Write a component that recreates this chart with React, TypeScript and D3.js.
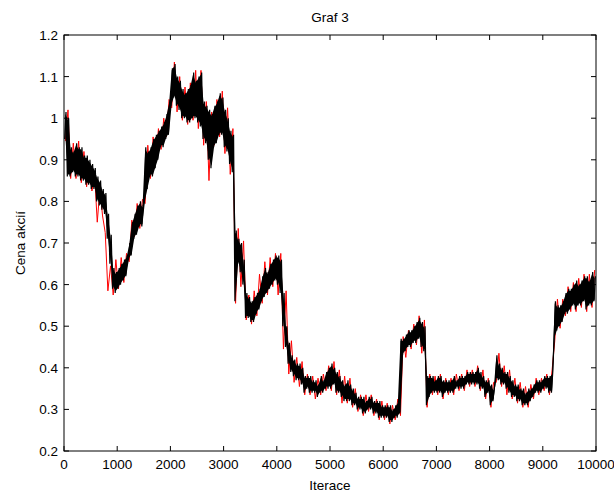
import React from "react";
import * as d3 from "d3";

// Price trace, summarised as low/high extremes per 50 iterations (black run)
const blackHigh = [
  1.015, 1.0, 0.93, 0.92, 0.94, 0.93, 0.93, 0.91, 0.91, 0.90,
  0.89, 0.88, 0.86, 0.85, 0.83, 0.82, 0.77, 0.72, 0.64, 0.63,
  0.64, 0.65, 0.66, 0.67, 0.70, 0.75, 0.77, 0.79, 0.80, 0.79,
  0.93, 0.92, 0.93, 0.95, 0.96, 0.97, 0.98, 0.99, 1.01, 1.04,
  1.12, 1.13, 1.10, 1.09, 1.07, 1.06, 1.07, 1.08, 1.11, 1.09,
  1.10, 1.11, 1.04, 1.03, 1.02, 1.01, 1.03, 1.04, 1.06, 1.05,
  1.02, 1.00, 0.97, 0.96, 0.73, 0.71, 0.70, 0.66, 0.58, 0.57,
  0.56, 0.57, 0.58, 0.59, 0.62, 0.64, 0.63, 0.65, 0.66, 0.67,
  0.67, 0.66, 0.58, 0.50, 0.46, 0.43, 0.42, 0.41, 0.41, 0.40,
  0.38, 0.38, 0.38, 0.37, 0.37, 0.36, 0.38, 0.37, 0.39, 0.40,
  0.41, 0.40, 0.39, 0.38, 0.37, 0.36, 0.37, 0.36, 0.35, 0.34,
  0.33, 0.33, 0.33, 0.32, 0.33, 0.33, 0.32, 0.32, 0.32, 0.31,
  0.31, 0.31, 0.31, 0.30, 0.31, 0.32, 0.47, 0.47, 0.48, 0.49,
  0.49, 0.50, 0.51, 0.52, 0.51, 0.50, 0.38, 0.38, 0.38, 0.37,
  0.38, 0.38, 0.37, 0.37, 0.37, 0.37, 0.38, 0.37, 0.38, 0.38,
  0.38, 0.39, 0.39, 0.39, 0.39, 0.40, 0.39, 0.38, 0.37, 0.37,
  0.36, 0.35, 0.43, 0.41, 0.40, 0.39, 0.39, 0.38, 0.37, 0.36,
  0.36, 0.35, 0.35, 0.34, 0.35, 0.35, 0.36, 0.37, 0.37, 0.37,
  0.38, 0.38, 0.38, 0.39, 0.56, 0.55, 0.55, 0.56, 0.58, 0.59,
  0.59, 0.60, 0.61, 0.60, 0.61, 0.62, 0.62, 0.61, 0.63, 0.62,
];

const blackLow = [
  0.95, 0.86, 0.86, 0.87, 0.86, 0.86, 0.85, 0.85, 0.84, 0.84,
  0.83, 0.83, 0.80, 0.79, 0.78, 0.77, 0.71, 0.65, 0.59, 0.58,
  0.59, 0.60, 0.61, 0.62, 0.66, 0.67, 0.71, 0.72, 0.74, 0.74,
  0.80, 0.83, 0.86, 0.86, 0.88, 0.90, 0.93, 0.93, 0.95, 0.96,
  1.03, 1.05, 1.03, 1.02, 1.00, 1.00, 0.99, 0.99, 1.00, 1.00,
  0.99, 0.98, 0.95, 0.94, 0.90, 0.88, 0.93, 0.94, 0.96, 0.96,
  0.93, 0.92, 0.89, 0.87, 0.56, 0.65, 0.63, 0.60, 0.52, 0.52,
  0.51, 0.51, 0.53, 0.54, 0.56, 0.57, 0.58, 0.59, 0.60, 0.61,
  0.60, 0.58, 0.50, 0.45, 0.41, 0.39, 0.38, 0.37, 0.37, 0.36,
  0.34, 0.35, 0.34, 0.34, 0.34, 0.33, 0.34, 0.34, 0.35, 0.35,
  0.35, 0.36, 0.34, 0.34, 0.33, 0.32, 0.32, 0.32, 0.31, 0.31,
  0.30, 0.30, 0.29, 0.29, 0.30, 0.30, 0.29, 0.29, 0.28, 0.28,
  0.28, 0.28, 0.27, 0.27, 0.28, 0.28, 0.29, 0.43, 0.44, 0.45,
  0.45, 0.46, 0.46, 0.47, 0.45, 0.44, 0.31, 0.33, 0.34, 0.34,
  0.34, 0.34, 0.33, 0.34, 0.34, 0.34, 0.34, 0.35, 0.35, 0.35,
  0.35, 0.36, 0.36, 0.36, 0.36, 0.36, 0.35, 0.35, 0.33, 0.34,
  0.31, 0.32, 0.37, 0.37, 0.36, 0.36, 0.35, 0.34, 0.33, 0.33,
  0.32, 0.32, 0.31, 0.31, 0.31, 0.32, 0.33, 0.34, 0.34, 0.34,
  0.35, 0.35, 0.34, 0.34, 0.47, 0.49, 0.50, 0.51, 0.53, 0.53,
  0.54, 0.55, 0.54, 0.55, 0.55, 0.56, 0.54, 0.55, 0.55, 0.56,
];

// Second run, low/high extremes per 100 iterations (red run)
const redHigh = [
  1.02, 0.94, 0.945, 0.92, 0.89, 0.865, 0.83, 0.725, 0.645, 0.66,
  0.665, 0.675, 0.755, 0.795, 0.805, 0.935, 0.955, 0.975, 1.0, 1.045,
  1.135, 1.1, 1.075, 1.085, 1.115, 1.115, 1.04, 1.015, 1.045, 1.065,
  1.025, 0.975, 0.735, 0.705, 0.575, 0.585, 0.625, 0.655, 0.665, 0.675,
  0.675, 0.585, 0.465, 0.425, 0.415, 0.385, 0.38, 0.375, 0.385, 0.405,
  0.415, 0.395, 0.38, 0.375, 0.35, 0.335, 0.335, 0.335, 0.325, 0.32,
  0.315, 0.31, 0.325, 0.475, 0.49, 0.505, 0.525, 0.515, 0.385, 0.38,
  0.385, 0.375, 0.375, 0.385, 0.385, 0.395, 0.395, 0.405, 0.395, 0.375,
  0.365, 0.435, 0.405, 0.395, 0.375, 0.365, 0.355, 0.36, 0.375, 0.375,
  0.385, 0.395, 0.565, 0.565, 0.595, 0.605, 0.615, 0.625, 0.625, 0.635,
];

const redLow = [
  0.945, 0.855, 0.855, 0.845, 0.835, 0.825, 0.75, 0.765, 0.585, 0.575,
  0.59, 0.605, 0.655, 0.715, 0.735, 0.795, 0.855, 0.895, 0.925, 0.955,
  1.025, 1.015, 0.995, 0.985, 0.995, 0.975, 0.935, 0.85, 0.935, 0.955,
  0.915, 0.865, 0.555, 0.595, 0.515, 0.505, 0.525, 0.555, 0.575, 0.595,
  0.575, 0.445, 0.385, 0.365, 0.355, 0.335, 0.335, 0.325, 0.335, 0.345,
  0.345, 0.335, 0.315, 0.315, 0.305, 0.295, 0.285, 0.295, 0.285, 0.275,
  0.275, 0.265, 0.275, 0.285, 0.425, 0.445, 0.455, 0.435, 0.305, 0.335,
  0.335, 0.325, 0.335, 0.335, 0.345, 0.345, 0.355, 0.355, 0.345, 0.325,
  0.305, 0.365, 0.355, 0.335, 0.325, 0.315, 0.305, 0.305, 0.325, 0.335,
  0.345, 0.335, 0.465, 0.495, 0.525, 0.535, 0.535, 0.545, 0.535, 0.545,
];

const xTicks = [0, 1000, 2000, 3000, 4000, 5000, 6000, 7000, 8000, 9000, 10000];
const yTicks = [0.2, 0.3, 0.4, 0.5, 0.6, 0.7, 0.8, 0.9, 1, 1.1, 1.2];

const W = 614;
const H = 496;
const left = 64;
const right = 596;
const top = 35;
const bottom = 451;
const font = "Arial, 'Liberation Sans', Helvetica, sans-serif";

type Bin = { it: number; lo: number; hi: number };

function bins(lows: number[], highs: number[], step: number): Bin[] {
  return lows.map((lo, i) => ({ it: i * step + step / 2, lo, hi: highs[i] }));
}

// Zigzag trace through the extremes: low then high in each bin
function zigzag(b: Bin[], step: number): [number, number][] {
  const pts: [number, number][] = [];
  b.forEach((d) => {
    pts.push([d.it - step * 0.25, d.lo]);
    pts.push([d.it + step * 0.25, d.hi]);
  });
  return pts;
}

export default function App() {
  const x = d3.scaleLinear().domain([0, 10000]).range([left, right]);
  const y = d3.scaleLinear().domain([0.2, 1.2]).range([bottom, top]);
  const line = d3
    .line<[number, number]>()
    .x((d) => x(d[0]))
    .y((d) => y(d[1]));
  // Band between the per-bin extremes, shrunk slightly so the zigzag forms the edge
  const area = d3
    .area<Bin>()
    .x((d) => x(d.it))
    .y0((d) => y(d.lo) - 2)
    .y1((d) => y(d.hi) + 2);

  const blackBins = bins(blackLow, blackHigh, 50);
  const redBins = bins(redLow, redHigh, 100);

  const redPath = line(zigzag(redBins, 100)) || "";
  const blackPath = line(zigzag(blackBins, 50)) || "";
  const blackBand =
    area(blackBins.map((d) => (y(d.lo) - y(d.hi) > 4 ? d : { ...d, lo: d.lo, hi: d.hi }))) || "";
  const tick = 5;

  return (
    <svg
      width={W}
      height={H}
      style={{ position: "absolute", left: 0, top: 0, background: "#fff" }}
      fontFamily={font}
    >
      <rect x={0} y={0} width={W} height={H} fill="#fff" />
      <defs>
        <clipPath id="plot">
          <rect x={left} y={top} width={right - left} height={bottom - top} />
        </clipPath>
      </defs>
      <g clipPath="url(#plot)">
        <path d={redPath} fill="none" stroke="#ff0000" strokeWidth={1} />
        <path d={blackBand} fill="#000" stroke="none" />
        <path d={blackPath} fill="none" stroke="#000" strokeWidth={1.2} />
      </g>

      {/* frame */}
      <rect
        x={left}
        y={top}
        width={right - left}
        height={bottom - top}
        fill="none"
        stroke="#000"
        strokeWidth={1}
      />

      {xTicks.map((t) => (
        <g key={"x" + t}>
          <line x1={x(t)} x2={x(t)} y1={bottom} y2={bottom - tick} stroke="#000" />
          <line x1={x(t)} x2={x(t)} y1={top} y2={top + tick} stroke="#000" />
          <text x={x(t)} y={469} fontSize={13.5} textAnchor="middle" fill="#000">
            {t}
          </text>
        </g>
      ))}
      {yTicks.map((t) => (
        <g key={"y" + t}>
          <line x1={left} x2={left + tick} y1={y(t)} y2={y(t)} stroke="#000" />
          <line x1={right} x2={right - tick} y1={y(t)} y2={y(t)} stroke="#000" />
          <text x={58} y={y(t) + 5} fontSize={13.5} textAnchor="end" fill="#000">
            {d3.format("~g")(t)}
          </text>
        </g>
      ))}

      <text x={(left + right) / 2} y={22} fontSize={13.5} textAnchor="middle" fill="#000">
        Graf 3
      </text>
      <text x={(left + right) / 2} y={490} fontSize={13.5} textAnchor="middle" fill="#000">
        Iterace
      </text>
      <text
        transform={`translate(25, ${(top + bottom) / 2}) rotate(-90)`}
        fontSize={13.5}
        textAnchor="middle"
        fill="#000"
      >
        Cena akcií
      </text>
    </svg>
  );
}
